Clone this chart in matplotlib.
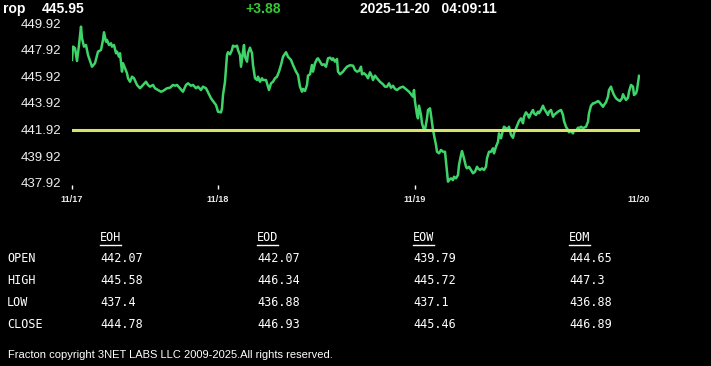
import matplotlib
matplotlib.use("Agg")
import matplotlib.pyplot as plt

# ---- data ----
sample_idx = [0, 1, 3, 5, 7, 9, 10, 12, 14, 16, 20, 23, 26, 29, 31, 32, 34, 35, 37, 39,
              40, 42, 44, 45, 47, 48, 50, 51, 53, 55, 56, 58, 60, 62, 65, 68, 71, 74, 76, 78,
              81, 83, 86, 89, 91, 95, 98, 101, 103, 105, 108, 111, 114, 116, 119, 121, 124, 126, 129, 131,
              134, 136, 139, 141, 144, 146, 149, 150, 151, 153, 155, 156, 158, 160, 161, 163, 165, 166, 168, 169,
              171, 172, 173, 175, 176, 178, 180, 181, 183, 185, 186, 188, 190, 191, 194, 196, 197, 199, 201, 203,
              205, 207, 209, 211, 214, 216, 219, 221, 224, 226, 228, 230, 231, 233, 235, 236, 238, 240, 241, 243,
              245, 246, 248, 250, 252, 254, 256, 258, 260, 261, 263, 265, 266, 268, 271, 273, 275, 278, 281, 283,
              285, 287, 289, 290, 292, 294, 296, 298, 300, 301, 303, 305, 308, 311, 313, 315, 317, 319, 321, 323,
              325, 328, 331, 333, 335, 337, 339, 341, 342, 343, 345, 346, 347, 349, 350, 352, 353, 355, 356, 358,
              359, 361, 362, 364, 365, 367, 369, 371, 373, 375, 376, 377, 379, 381, 382, 384, 386, 387, 389, 390,
              392, 394, 395, 397, 399, 401, 403, 405, 406, 408, 410, 412, 414, 415, 417, 419, 421, 422, 424, 426,
              427, 429, 431, 432, 434, 435, 437, 439, 441, 442, 444, 446, 447, 449, 451, 452, 454, 456, 457, 459,
              461, 462, 464, 466, 467, 469, 471, 472, 474, 476, 477, 479, 481, 482, 484, 486, 487, 489, 491, 492,
              494, 496, 497, 499, 501, 502, 504, 506, 507, 509, 511, 512, 514, 516, 517, 519, 521, 522, 524, 526,
              527, 529, 531, 532, 534, 536, 537, 539, 540, 542, 544, 546, 548, 550, 551, 553, 554, 556, 557, 559,
              561, 562, 564, 565, 567]

prices = [447.15, 448.15, 448.03, 447.07, 448.27, 449.65, 448.78, 448.15, 448.27, 447.52,
          446.64, 446.90, 447.77, 447.90, 448.65, 449.23, 448.52, 448.65, 448.27, 448.40,
          448.15, 448.27, 447.65, 447.77, 447.39, 447.65, 446.27, 446.90, 446.52, 446.15,
          445.77, 445.51, 445.89, 445.77, 445.27, 445.02, 445.27, 445.51, 445.27, 445.14,
          445.27, 445.02, 444.89, 444.76, 444.82, 445.02, 445.06, 445.27, 445.21, 445.27,
          445.02, 444.76, 445.27, 445.39, 445.21, 445.27, 445.02, 445.14, 444.89, 445.14,
          445.02, 444.72, 444.27, 444.06, 443.76, 443.26, 443.21, 443.51, 444.51, 445.51,
          447.52, 447.73, 447.57, 447.90, 448.22, 448.15, 448.22, 447.90, 447.52, 446.64,
          447.77, 448.27, 447.39, 447.02, 447.65, 448.07, 447.65, 446.77, 445.77, 445.64,
          445.89, 445.51, 445.77, 445.64, 445.64, 445.14, 444.89, 445.39, 445.51, 445.77,
          445.89, 446.27, 446.77, 447.39, 447.73, 447.39, 447.15, 446.77, 446.27, 446.02,
          445.14, 444.76, 444.97, 444.82, 445.27, 445.97, 446.07, 446.77, 446.27, 446.90,
          447.22, 447.27, 447.02, 446.77, 446.82, 446.64, 447.27, 447.32, 447.15, 447.27,
          447.02, 447.22, 446.27, 446.07, 446.27, 446.47, 446.64, 446.75, 446.72, 446.39,
          446.27, 446.32, 446.64, 446.07, 446.15, 446.02, 445.77, 446.22, 445.89, 445.64,
          445.97, 445.77, 445.51, 445.32, 445.14, 445.14, 445.39, 445.06, 445.21, 444.97,
          444.89, 445.06, 445.14, 445.02, 444.89, 444.76, 444.57, 444.39, 444.89, 444.01,
          443.01, 442.76, 443.71, 443.01, 442.39, 441.88, 441.88, 442.76, 443.39, 443.51,
          443.01, 441.88, 441.51, 440.76, 440.25, 440.13, 440.38, 440.25, 440.25, 438.75,
          438.00, 438.12, 438.25, 438.12, 438.37, 438.25, 438.50, 439.25, 440.00, 440.30,
          439.75, 439.12, 439.00, 439.12, 438.88, 438.63, 438.75, 439.12, 439.00, 438.88,
          439.00, 438.88, 439.12, 439.75, 440.25, 440.25, 440.51, 440.13, 440.63, 441.00,
          441.63, 441.26, 441.88, 442.13, 442.01, 441.88, 442.13, 441.51, 441.30, 441.63,
          442.01, 442.39, 442.56, 442.76, 442.39, 442.88, 443.21, 443.01, 442.81, 443.14,
          443.39, 443.14, 443.01, 443.26, 443.14, 443.39, 443.71, 443.51, 443.26, 443.01,
          443.26, 443.39, 442.88, 443.01, 443.14, 443.26, 443.31, 443.39, 443.01, 442.56,
          442.13, 441.88, 441.71, 441.81, 441.63, 441.88, 441.81, 442.06, 442.01, 442.13,
          442.01, 442.06, 442.13, 442.51, 443.14, 443.71, 443.89, 443.89, 443.97, 444.06,
          444.01, 443.82, 443.63, 443.76, 443.97, 444.39, 444.89, 445.14, 444.89, 444.51,
          444.27, 444.14, 444.06, 444.27, 444.57, 444.27, 444.14, 444.31, 444.76, 445.27,
          445.14, 444.51, 444.64, 444.89, 445.95]

ref_level = 441.92
ytick_values = [437.92, 439.92, 441.92, 443.92, 445.92, 447.92, 449.92]
xtick_idx = [0, 146, 343, 567]
xtick_labels = ["11/17", "11/18", "11/19", "11/20"]

symbol = "rop"
last_price = "445.95"
change = "+3.88"
timestamp = "2025-11-20   04:09:11"

table_cols = ["EOH", "EOD", "EOW", "EOM"]
table_rows = ["OPEN", "HIGH", "LOW", "CLOSE"]
table_vals = [
    ["442.07", "442.07", "439.79", "444.65"],
    ["445.58", "446.34", "445.72", "447.3"],
    ["437.4", "436.88", "437.1", "436.88"],
    ["444.78", "446.93", "445.46", "446.89"],
]
copyright_text = "Fracton copyright 3NET LABS LLC 2009-2025.All rights reserved."

# ---- figure ----
W, H = 711, 366
fig = plt.figure(figsize=(W / 100, H / 100), dpi=100, facecolor="black")

def fx(px):
    return px / W

def fy(py):
    return 1 - py / H

ax = fig.add_axes([fx(72), fy(185), fx(640) - fx(72), fy(20) - fy(185)])
ax.set_facecolor("black")
for s in ax.spines.values():
    s.set_visible(False)

ax.plot(sample_idx, prices, color="#3fd46a", lw=1.8, solid_joinstyle="round")
ax.plot([xtick_idx[0], xtick_idx[-1] + 1], [ref_level, ref_level], color="#d6e46a", lw=2.2)

ax.set_xlim(0, 568)
ax.set_ylim(437.75, 450.15)

ax.set_yticks(ytick_values)
ax.set_yticklabels([f"{v:.2f}" for v in ytick_values], color="#f0f0f0",
                   fontsize=9.5, family="Liberation Sans")
ax.tick_params(axis="y", length=0, pad=8)

ax.set_xticks(xtick_idx)
ax.set_xticklabels(xtick_labels, color="#e8e8e8", fontsize=6.5,
                   fontweight="bold", family="Liberation Sans")
ax.tick_params(axis="x", length=3, width=1, color="white", pad=4, direction="out")
xtl = ax.xaxis.get_major_ticks()
xtl[-1].tick1line.set_visible(False)

# ---- header ----
hdr = dict(color="white", fontsize=10, fontweight="bold", family="Liberation Sans",
           va="center", ha="left")
fig.text(fx(3), fy(9), symbol, **hdr)
fig.text(fx(42), fy(9), last_price, **hdr)
fig.text(fx(245), fy(9), change, **{**hdr, "color": "#35c935"})
fig.text(fx(360), fy(9), timestamp, **hdr)

# ---- table ----
mono = dict(color="white", fontsize=8.5, family="DejaVu Sans Mono", va="center", ha="left")
col_x = [100, 257, 413, 569]
row_y = [259, 281, 303, 325]
for cx, name in zip(col_x, table_cols):
    fig.text(fx(cx), fy(238), name, **mono)
    fig.add_artist(plt.Line2D([fx(cx), fx(cx + 21)], [fy(245), fy(245)],
                              color="white", lw=1, transform=fig.transFigure))
for ry, rname, vals in zip(row_y, table_rows, table_vals):
    fig.text(fx(7), fy(ry), rname, **mono)
    for cx, v in zip(col_x, vals):
        fig.text(fx(cx), fy(ry), v, **mono)

fig.text(fx(8), fy(355), copyright_text, color="white", fontsize=8,
         family="Liberation Sans", va="center", ha="left")

fig.savefig("out.png", dpi=100, facecolor="black")
